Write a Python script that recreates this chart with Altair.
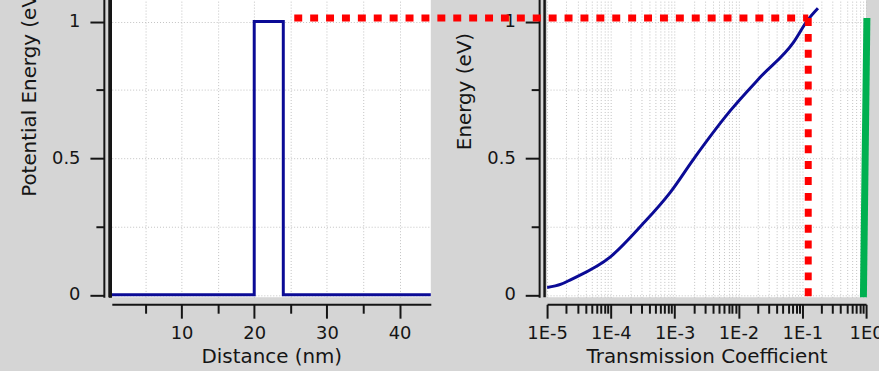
import altair as alt
import pandas as pd

# Rectangular barrier: potential energy along the device (nm, eV)
distance_nm = [0.0, 20.0, 20.0, 24.0, 24.0, 45.0]
potential_ev = [0.0, 0.0, 1.0, 1.0, 0.0, 0.0]

# Tunnelling transmission coefficient versus electron energy
transmission = [1.0e-5, 1.66e-5, 2.37e-5, 9.95e-5, 3.10e-4, 8.59e-4,
                1.98e-3, 7.40e-3, 2.17e-2, 7.18e-2, 0.123, 0.176]
energy_ev = [0.027, 0.039, 0.056, 0.140, 0.257, 0.376,
             0.497, 0.673, 0.795, 0.922, 1.007, 1.049]

# Classical (over-the-barrier) reference line
classical_t = [0.908, 1.03]
classical_e = [-0.009, 1.013]

# Selected operating point (energy level and its transmission)
marker_energy = 1.013
marker_transmission = 0.124

# Scale ranges
X_DIST = [0.4, 44.3]
X_TRANS = [1e-5, 1.0]
Y_ENERGY = [-0.009, 1.5]
# the energy guide runs back across the barrier panel, starting above ~25 nm
guide_left_t = 1.09e-9

BLUE = "#0b0b96"
RED = "#ff0000"
GREEN = "#00b050"
INK = "#151515"
FONT = "DejaVu Sans"

pot = pd.DataFrame({"distance": distance_nm, "potential": potential_ev})
curve = pd.DataFrame({"t": transmission, "e": energy_ev})
classical = pd.DataFrame({"t": classical_t, "e": classical_e})
guide = pd.DataFrame({"t0": [guide_left_t], "t1": [marker_transmission],
                      "e": [marker_energy], "e0": [Y_ENERGY[0]]})

common_axis = dict(
    domainColor=INK, domainWidth=2, tickColor=INK, tickWidth=2,
    labelFont=FONT, labelFontSize=18, labelColor=INK, labelFlush=False,
    titleFont=FONT, titleFontSize=20, titleFontWeight="normal", titleColor=INK,
    grid=True, gridColor="#c2c2c2", gridDash=[1, 2], gridWidth=1,
)

energy_ticks = [0, 0.25, 0.5, 0.75, 1.0, 1.25]


def energy_axis(title):
    return alt.Axis(
        title=title, values=energy_ticks, format="~g",
        labelExpr="datum.value % 0.5 === 0 ? datum.label : ''",
        tickSize={"condition": {"test": "datum.value % 0.5 === 0", "value": 14}, "value": 8},
        offset=8, labelPadding=10, titlePadding=12, **common_axis,
    )


y_scale = alt.Scale(domain=Y_ENERGY, nice=False, zero=False)

# ---------------- left panel: potential profile ----------------
x_dist = alt.Scale(domain=X_DIST, nice=False, zero=False)
dist_axis = alt.Axis(
    title="Distance (nm)", values=[5, 10, 15, 20, 25, 30, 35, 40],
    labelExpr="datum.value % 10 === 0 ? datum.label : ''",
    tickSize={"condition": {"test": "datum.value % 10 === 0", "value": 14}, "value": 9},
    offset=7, labelPadding=6, titlePadding=5, **common_axis,
)
pot_y_axis = energy_axis("Potential Energy (eV)")

pot_line = alt.Chart(pot).mark_line(color=BLUE, strokeWidth=3, clip=True).encode(
    x=alt.X("distance:Q", scale=x_dist, axis=dist_axis),
    y=alt.Y("potential:Q", scale=y_scale, axis=pot_y_axis),
    order=alt.Order("idx:Q"),
).transform_window(idx="row_number()")

left_frame = alt.Chart(pot).mark_rule(color=INK, strokeWidth=3, xOffset=-1.5).encode(
    x=alt.datum(X_DIST[0], scale=x_dist, axis=dist_axis)
)

left = alt.layer(pot_line, left_frame).properties(width=321, height=415)

# ---------------- right panel: transmission ----------------
x_trans = alt.Scale(type="log", domain=X_TRANS, nice=False)
trans_ticks = [k * 10.0 ** p for p in range(-5, 0) for k in range(1, 10)] + [1.0]
is_decade = "abs(log(datum.value)/LN10 - round(log(datum.value)/LN10)) < 1e-6"
trans_axis = alt.Axis(
    title="Transmission Coefficient", values=trans_ticks,
    labelExpr=f"{is_decade} ? '1E' + round(log(datum.value)/LN10) : ''",
    tickSize={"condition": {"test": is_decade, "value": 14}, "value": 9},
    offset=7, labelPadding=6, titlePadding=5, labelOverlap=False, **common_axis,
)
e_axis = energy_axis("Energy (eV)")

t_line = alt.Chart(curve).mark_line(color=BLUE, strokeWidth=3, clip=True,
                                    interpolate="monotone").encode(
    x=alt.X("t:Q", scale=x_trans, axis=trans_axis),
    y=alt.Y("e:Q", scale=y_scale, axis=e_axis),
)

classical_line = alt.Chart(classical).mark_line(color=GREEN, strokeWidth=7).encode(
    x=alt.X("t:Q", scale=x_trans, axis=trans_axis),
    y=alt.Y("e:Q", scale=y_scale, axis=e_axis),
)

h_guide = alt.Chart(guide).mark_rule(color=RED, strokeWidth=7, strokeDash=[8, 8]).encode(
    x=alt.X("t0:Q", scale=x_trans, axis=trans_axis),
    x2="t1:Q",
    y=alt.Y("e:Q", scale=y_scale, axis=e_axis),
)

v_guide = alt.Chart(guide).mark_rule(color=RED, strokeWidth=7, strokeDash=[8, 8]).encode(
    x=alt.X("t1:Q", scale=x_trans, axis=trans_axis),
    y=alt.Y("e:Q", scale=y_scale, axis=e_axis),
    y2="e0:Q",
)

right_frame = alt.Chart(guide).mark_rule(color=INK, strokeWidth=2.5, xOffset=-2.5).encode(
    x=alt.datum(X_TRANS[0], scale=x_trans, axis=trans_axis)
)

right = alt.layer(t_line, classical_line, h_guide, v_guide, right_frame).properties(
    width=321, height=415
)

chart = alt.hconcat(left, right, spacing=117, bounds="flush").properties(
    padding={"left": 19.5, "top": -119, "right": -5, "bottom": 6},
    background="#d5d5d5",
).configure_view(fill="white", stroke=None)

chart.save("out.html", embed_options={"renderer": "svg", "actions": False})
